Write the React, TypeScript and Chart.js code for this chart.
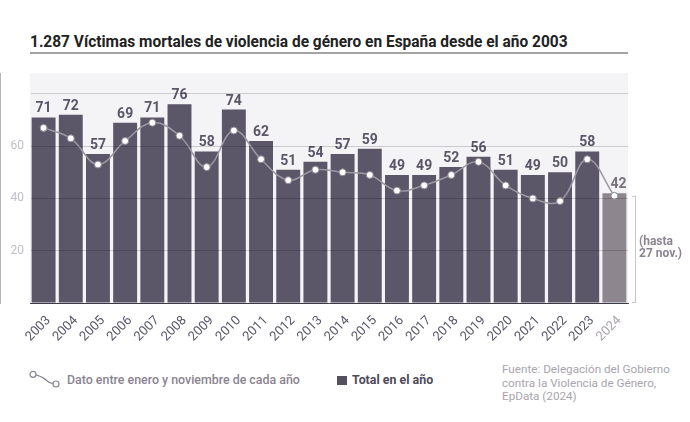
import React, { useEffect, useRef } from "react";
import { Chart, registerables } from "chart.js";

Chart.register(...registerables);

const years = ["2003","2004","2005","2006","2007","2008","2009","2010","2011","2012","2013","2014","2015","2016","2017","2018","2019","2020","2021","2022","2023","2024"];
const totals = [71,72,57,69,71,76,58,74,62,51,54,57,59,49,49,52,56,51,49,50,58,42];
const janNov = [67,63,53,62,69,64,52,66,55,47,51,50,49,43,45,49,54,45,40,39,55,41];
const yTicks = [20, 40, 60];
const title = "1.287 Víctimas mortales de violencia de género en España desde el año 2003";
const lineLabel = "Dato entre enero y noviembre de cada año";
const barLabel = "Total en el año";
const noteLines = ["(hasta", "27 nov.)"];
const sourceLines = ["Fuente: Delegación del Gobierno", "contra la Violencia de Género,", "EpData (2024)"];

const DARK = "#5b5668";
const LIGHT_BAR = "#8e868f";
const FONT = "Roboto";

export default function App() {
  const ref = useRef<HTMLCanvasElement>(null);
  useEffect(() => {
    const last = years.length - 1;
    const bgPlugin = {
      id: "bg",
      beforeDraw(chart: any) {
        const { ctx, chartArea: a } = chart;
        ctx.save();
        ctx.fillStyle = "#f4f3f6";
        ctx.fillRect(a.left, a.top, a.right - a.left, a.bottom - a.top);
        ctx.restore();
      },
    };
    const labelPlugin = {
      id: "labels",
      afterDatasetsDraw(chart: any) {
        const { ctx } = chart;
        const meta = chart.getDatasetMeta(0);
        ctx.save();
        ctx.font = `bold 14px ${FONT}`;
        ctx.textAlign = "center";
        ctx.textBaseline = "alphabetic";
        meta.data.forEach((bar: any, i: number) => {
          ctx.fillStyle = i === last ? "#78717e" : DARK;
          const dx = i === last ? 4 : 0;
          ctx.fillText(String(totals[i]), bar.x + dx, bar.y - 5);
        });
        const ys = chart.scales.y;
        const a = chart.chartArea;
        const x = a.right + 7;
        const top = ys.getPixelForValue(janNov[last]);
        const bot = ys.getPixelForValue(0);
        ctx.strokeStyle = "#c9c5cc";
        ctx.lineWidth = 1;
        ctx.beginPath();
        ctx.moveTo(x + 0.5, top);
        ctx.lineTo(x + 0.5, bot);
        ctx.moveTo(x - 3, top + 0.5);
        ctx.lineTo(x + 1, top + 0.5);
        ctx.moveTo(x - 3, bot - 0.5);
        ctx.lineTo(x + 1, bot - 0.5);
        ctx.stroke();
        ctx.font = `bold 12px ${FONT}`;
        ctx.fillStyle = "#8a8490";
        ctx.textAlign = "left";
        ctx.textBaseline = "middle";
        const mid = (top + bot) / 2;
        ctx.fillText(noteLines[0], x + 4, mid - 7);
        ctx.fillText(noteLines[1], x + 4, mid + 5);
        ctx.restore();
      },
    };
    const chart = new Chart(ref.current!, {
      type: "bar",
      data: {
        labels: years,
        datasets: [
          {
            type: "bar",
            label: barLabel,
            data: totals,
            backgroundColor: totals.map((_, i) => (i === last ? LIGHT_BAR : DARK)),
            categoryPercentage: 1,
            barPercentage: 0.88,
            order: 1,
          } as any,
          {
            type: "line",
            label: lineLabel,
            data: janNov,
            borderColor: "#9d98a3",
            borderWidth: 1.5,
            tension: 0.4,
            pointRadius: 3.5,
            pointBackgroundColor: "#ffffff",
            pointBorderColor: "#8a8490",
            pointBorderWidth: 1,
            order: 0,
          } as any,
        ],
      },
      options: {
        animation: false,
        responsive: false,
        maintainAspectRatio: false,
        layout: { padding: { top: 73, right: 62, left: 0, bottom: 0 } },
        plugins: { legend: { display: false }, tooltip: { enabled: false } },
        scales: {
          x: {
            grid: { display: false },
            border: { display: true, color: "#4a4656", width: 1 },
            ticks: {
              minRotation: 45,
              maxRotation: 45,
              autoSkip: false,
              padding: 2,
              labelOffset: 5,
              font: { family: FONT, size: 13 },
              color: (c: any) => (c.index === last ? "#aaa4ad" : DARK),
            },
            afterFit(s: any) { s.height = 42; },
          },
          y: {
            min: 0,
            max: 88,
            grid: { color: "rgba(0,0,0,0.17)", z: 1, drawTicks: false },
            border: { display: true, color: "#6e6a78", width: 1 },
            ticks: {
              stepSize: 20,
              padding: 6,
              font: { family: FONT, size: 12 },
              color: "#c2bec6",
              callback: (v: any) => (yTicks.includes(Number(v)) ? String(v) : ""),
            },
            afterBuildTicks(s: any) {
              s.ticks = s.ticks.filter((t: any) => t.value % 20 === 0);
            },
            afterFit(s: any) { s.width = 30; },
          },
        },
      },
      plugins: [bgPlugin, labelPlugin],
    } as any);
    return () => chart.destroy();
  }, []);

  return (
    <div style={{ position: "fixed", left: 0, top: 0, width: 690, height: 422, background: "#fff", fontFamily: FONT, overflow: "hidden" }}>
      <div style={{ position: "absolute", left: 30, top: 30, fontSize: 17, fontWeight: 700, color: "#222", lineHeight: "22px", whiteSpace: "nowrap", transform: "scaleX(0.91)", transformOrigin: "left center" }}>{title}</div>
      <div style={{ position: "absolute", left: 30, top: 52, width: 598, height: 2, background: "#a3a3a3" }} />
      <canvas ref={ref} width={690} height={345} style={{ position: "absolute", left: 0, top: 0, width: 690, height: 345 }} />
      <svg style={{ position: "absolute", left: 0, top: 360 }} width={70} height={40}>
        <path d="M 36 14.8 Q 43 17 46 20 Q 49 23 53 23.6" stroke="#8a8490" strokeWidth={1.3} fill="none" />
        <circle cx={33} cy={14.3} r={3} fill="#fff" stroke="#8a8490" strokeWidth={1.2} />
        <circle cx={56} cy={24} r={3} fill="#fff" stroke="#8a8490" strokeWidth={1.2} />
      </svg>
      <div style={{ position: "absolute", left: 67, top: 371, fontSize: 12.4, fontWeight: 500, color: "#8a8490", lineHeight: "18px", whiteSpace: "nowrap" }}>{lineLabel}</div>
      <div style={{ position: "absolute", left: 337, top: 376, width: 10, height: 9, background: "#55505f" }} />
      <div style={{ position: "absolute", left: 352, top: 371, fontSize: 12.4, fontWeight: 700, color: "#4f4a5a", lineHeight: "18px", whiteSpace: "nowrap" }}>{barLabel}</div>
      <div style={{ position: "absolute", left: 502, top: 363, fontSize: 11.7, fontWeight: 400, color: "#a9a4ad", lineHeight: "13.7px", whiteSpace: "nowrap" }}>
        {sourceLines.map((l, i) => (<div key={i}>{l}</div>))}
      </div>
    </div>
  );
}
